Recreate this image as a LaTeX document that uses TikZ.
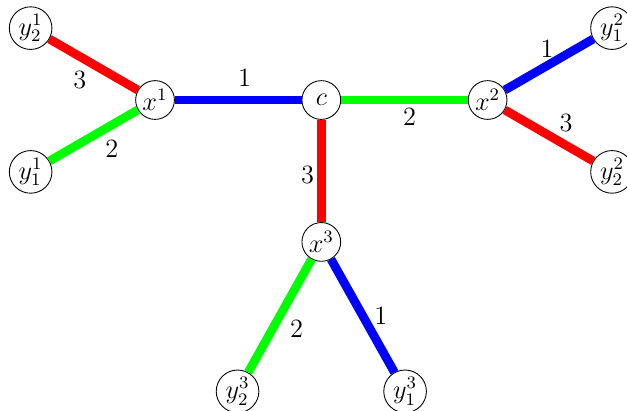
\documentclass[tikz,border=0pt]{standalone}
\begin{document}
\begin{tikzpicture}[x=1cm, y=1cm]
            \tikzstyle{vertex}=[circle,draw,fill=white,minimum size=0.62cm,inner sep=1pt,font=\large]
            \tikzstyle{edge}=[line width=4pt]
            \tikzstyle{weight}=[text=black,font=\large]
            \useasboundingbox (-5.14,-4.96) rectangle (4.89,1.6);
            \node[vertex] (C) at (0,0) {$c$};
            \node[vertex] (X_1) at (-2.66,0) {$x^1$};
            \node[vertex] (X_2) at (2.66,0) {$x^2$};
            \node[vertex] (X_3) at (0,-2.27) {$x^3$};
            \node[vertex] (Y_12) at (-4.65,1.15) {$y^1_2$};
            \node[vertex] (Y_11) at (-4.65,-1.15) {$y^1_1$};
            \node[vertex] (Y_21) at (4.65,1.15) {$y^2_1$};
            \node[vertex] (Y_22) at (4.65,-1.15) {$y^2_2$};
            \node[vertex] (Y_32) at (-1.34,-4.66) {$y^3_2$};
            \node[vertex] (Y_31) at (1.34,-4.66) {$y^3_1$};

            \draw[edge,blue] (X_1) -- (C) node[weight,pos=0.55,above=1pt] {$1$};
            \draw[edge,green] (C) -- (X_2) node[weight,pos=0.54,below=-1.5pt] {$2$};
            \draw[edge,red] (C) -- (X_3) node[weight,pos=0.54,left=-2pt] {$3$};
            \draw[edge,red] (Y_12) -- (X_1) node[weight,midway,below left=-2pt] {$3$};
            \draw[edge,green] (Y_11) -- (X_1) node[weight,pos=0.55,below right=-2pt] {$2$};
            \draw[edge,blue] (X_2) -- (Y_21) node[weight,pos=0.48,above=-1.5pt] {$1$};
            \draw[edge,red] (X_2) -- (Y_22) node[weight,pos=0.55,above right=-2.5pt] {$3$};
            \draw[edge,green] (X_3) -- (Y_32) node[weight,pos=0.47,below right=-1.5pt] {$2$};
            \draw[edge,blue] (X_3) -- (Y_31) node[weight,midway,right=0pt] {$1$};
        \end{tikzpicture}
\end{document}
